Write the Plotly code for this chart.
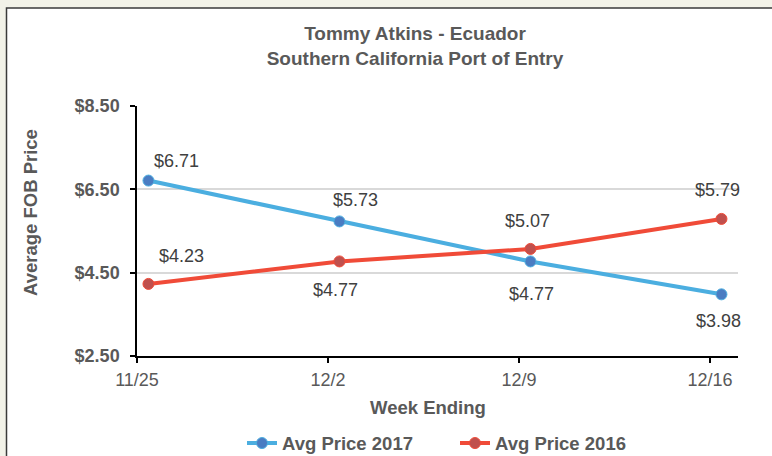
import plotly.graph_objects as go
import numpy as np

weeks = ["11/25", "12/2", "12/9", "12/16"]
price_2017 = [6.71, 5.73, 4.77, 3.98]
price_2016 = [4.23, 4.77, 5.07, 5.79]
y_ticks = [2.5, 4.5, 6.5, 8.5]
y_tick_text = ["$2.50", "$4.50", "$6.50", "$8.50"]

# label placement offsets (pixels) -- style only
off_2017 = [(28, 20), (16, 21), (1, -33), (-3, -27)]
off_2016 = [(33, 28), (-4, -29), (-3, 28), (-4, 29)]

x_idx = np.arange(len(weeks))
tick_offset = 0.06

FONT = "Liberation Sans, Arial, sans-serif"
GRAY = "#595959"

fig = go.Figure()
fig.add_trace(go.Scatter(
    x=x_idx, y=price_2017, mode="lines+markers", name="<b>Avg Price 2017</b>",
    line=dict(color="#4BAEE0", width=4),
    marker=dict(color="#4A7CC2", size=11, line=dict(color="#4BAEE0", width=1)),
))
fig.add_trace(go.Scatter(
    x=x_idx, y=price_2016, mode="lines+markers", name="<b>Avg Price 2016</b>",
    line=dict(color="#F04B38", width=4),
    marker=dict(color="#C0504D", size=11, line=dict(color="#F04B38", width=1)),
))

annotations = []
for vals, offs in ((price_2017, off_2017), (price_2016, off_2016)):
    for xi, v, (dx, dy) in zip(x_idx, vals, offs):
        annotations.append(dict(
            x=xi, y=v, xref="x", yref="y", text=f"${v:.2f}", showarrow=False,
            xshift=dx, yshift=dy, font=dict(family=FONT, size=18, color="#404040"),
        ))

annotations.append(dict(
    text="<b>Week Ending</b>", x=0.484, y=-0.204, xref="paper", yref="paper",
    showarrow=False, xanchor="center", yanchor="middle",
    font=dict(family=FONT, size=18.5, color=GRAY),
))
annotations.append(dict(
    text="<b>Average FOB Price</b>", x=-0.178, y=0.572, xref="paper", yref="paper",
    showarrow=False, xanchor="center", yanchor="middle", textangle=-90,
    font=dict(family=FONT, size=18.5, color=GRAY),
))

fig.update_layout(
    width=772, height=456,
    margin=dict(l=137, r=34, t=106, b=100, autoexpand=False),
    paper_bgcolor="#F2F2E8",
    plot_bgcolor="rgba(0,0,0,0)",
    title=dict(
        text="<b>Tommy Atkins - Ecuador<br>Southern California Port of Entry</b>",
        x=415 / 772, xanchor="center", y=1 - 40 / 456, yanchor="middle",
        font=dict(family=FONT, size=19, color=GRAY),
    ),
    annotations=annotations,
    showlegend=True,
    legend=dict(
        orientation="h", x=(242 - 137) / 601, xanchor="left", y=-0.35, yanchor="middle",
        font=dict(family=FONT, size=18.5, color=GRAY),
        bgcolor="rgba(0,0,0,0)", entrywidth=168, entrywidthmode="pixels",
    ),
    shapes=[dict(
        type="rect", xref="paper", yref="paper",
        x0=(6.5 - 137) / 601, x1=(800 - 137) / 601,
        y0=(356 - 480) / 250, y1=(356 - 8) / 250,
        fillcolor="white", line=dict(color="#3A3A3A", width=1.5), layer="below",
    )],
)

fig.update_xaxes(
    automargin=False,
    range=[-tick_offset, -tick_offset + 601 / 191],
    tickvals=x_idx - tick_offset, ticktext=weeks,
    showline=True, linecolor="black", linewidth=1.5,
    ticks="outside", ticklen=5, tickcolor="black", tickwidth=1.5,
    showgrid=False, zeroline=False, ticklabelstandoff=2,
    tickfont=dict(family=FONT, size=18, color=GRAY),
)
fig.update_yaxes(
    automargin=False,
    range=[2.5, 8.5], tickvals=y_ticks,
    ticktext=[f"<b>{t}</b>" for t in y_tick_text],
    showline=True, linecolor="black", linewidth=1.5,
    ticks="outside", ticklen=5, tickcolor="black", tickwidth=1.5,
    showgrid=True, gridcolor="#D9D9D9", gridwidth=1.5, zeroline=False,
    ticklabelstandoff=7,
    tickfont=dict(family=FONT, size=18, color=GRAY),
)

fig.write_html(
    "out.html",
    config={"displayModeBar": False},
    post_script="document.body.style.margin='0';document.body.style.overflow='hidden';",
)
